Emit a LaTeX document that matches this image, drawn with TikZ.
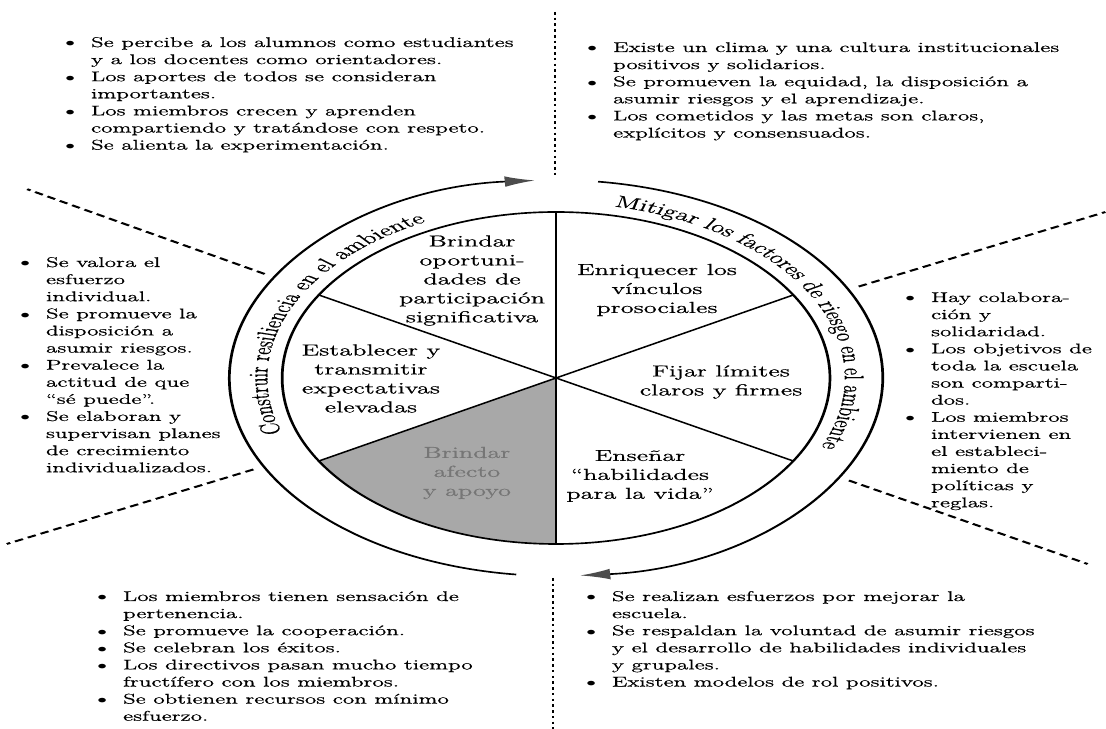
\documentclass[tikz,border=0pt]{standalone}
\usepackage{fontspec}
\setmainfont{Latin Modern Roman}[FakeBold=0.6]
\usetikzlibrary{arrows.meta}
\usetikzlibrary{calc}
\usetikzlibrary{decorations.text}
\tikzset{>={Latex[length=5.5mm,width=3.2mm,color=black!70]}}
\definecolor{afecto gray}{HTML}{A8A8A8}
\definecolor{afecto text}{HTML}{767676}
\newcommand{\ringfont}{\fontsize{14}{16}\selectfont}
\newcommand{\bul}{\makebox[6pt]{\fontsize{10}{10}\selectfont$\bullet$}}
\tikzset{
    listbox/.style={anchor=base west, inner sep=0pt, font=\fontsize{12}{14.6}\selectfont},
    wheeltext/.style={align=center, inner sep=0pt, font=\fontsize{13.6}{16.2}\selectfont},
    ringline/.style={line width=1.4pt},
    sepline/.style={line width=1.6pt, dash pattern=on 4.6pt off 2.8pt},
    dotline/.style={line width=1.4pt, dash pattern=on 2.2pt off 2.7pt},
}

\begin{document}
\begin{tikzpicture}[x=0.3mm, y=0.3mm]
    \useasboundingbox (0,0) rectangle (1106,729);
    \begin{scope}[transform canvas={xscale=1.65}]
        \coordinate (c) at (337,351);
        % shaded sector
        \fill[afecto gray] (c) -- ++(210:166) arc[start angle=210, end angle=270, radius=166] -- cycle;
        \begin{scope}[shift={(c)}]
            \foreach \a in {30, 90, ..., 330} {
                \draw[line width=1.2pt] (0,0) -- (\a:166);
            }
            \draw[ringline] (0,0) circle[radius=166];
            \draw[ringline, ->] (263:198) arc[start angle=263, end angle=93.7, radius=198];
            \draw[ringline, ->] (82.6:198) arc[start angle=82.6, end angle=-85.8, radius=198];
            \foreach \a in {149.5, 206.5, 26.5, -30} {
                \draw[sepline] (\a:205) -- (\a:372);
            }
            \path[decorate, decoration={text along path, text align=center,
                text={|\ringfont|Construir resiliencia en el ambiente}}]
                (215:175) arc[start angle=215, end angle=100, radius=175];
            \path[decorate, decoration={text along path, text align=center,
                text={|\ringfont|Mitigar los factores de riesgo en el ambiente}}]
                (95:175) arc[start angle=95, end angle=-40, radius=175];
        \end{scope}
        \draw[dotline] (336.4,717) -- (336.4,554);
        \draw[dotline] (335.2,151) -- (335.2,0);

        % wheel
        \node[wheeltext] (oportunidades) at (286.1,448.5) {Brindar\\oportuni-\\dades de\\participación\\significativa};
        \node[wheeltext] (vinculos) at (398.2,439) {Enriquecer los\\vínculos\\prosociales};
        \node[wheeltext] (expectativas) at (224.8,350.5) {Establecer y\\transmitir\\expectativas\\elevadas};
        \node[wheeltext] (limites) at (437,347) {Fijar límites\\claros y firmes};
        \node[wheeltext, text=afecto text] (afecto) at (283,256) {Brindar\\afecto\\y apoyo};
        \node[wheeltext] (habilidades) at (387.9,253) {Enseñar\\“habilidades\\para la vida”};

        % lists
        \node[listbox] (alumnos) at (38.8,682) {\begin{tabular}[t]{@{}l@{\hspace{7.8pt}}l@{}}
            \bul & Se percibe a los alumnos como estudiantes\\
                 & y a los docentes como orientadores.\\
            \bul & Los aportes de todos se consideran\\
                 & importantes.\\
            \bul & Los miembros crecen y aprenden\\
                 & compartiendo y tratándose con respeto.\\
            \bul & Se alienta la experimentación.
        \end{tabular}};
        \node[listbox] (clima) at (355.2,677) {\begin{tabular}[t]{@{}l@{\hspace{7.8pt}}l@{}}
            \bul & Existe un clima y una cultura institucionales\\
                 & positivos y solidarios.\\
            \bul & Se promueven la equidad, la disposición a\\
                 & asumir riesgos y el aprendizaje.\\
            \bul & Los cometidos y las metas son claros,\\
                 & explícitos y consensuados.
        \end{tabular}};
        \node[listbox] (esfuerzo) at (11.5,462) {\begin{tabular}[t]{@{}l@{\hspace{7.8pt}}l@{}}
            \bul & Se valora el\\
                 & esfuerzo\\
                 & individual.\\
            \bul & Se promueve la\\
                 & disposición a\\
                 & asumir riesgos.\\
            \bul & Prevalece la\\
                 & actitud de que\\
                 & “sé puede”.\\
            \bul & Se elaboran y\\
                 & supervisan planes\\
                 & de crecimiento\\
                 & individualizados.
        \end{tabular}};
        \node[listbox] (colaboracion) at (547.9,427) {\begin{tabular}[t]{@{}l@{\hspace{7.8pt}}l@{}}
            \bul & Hay colabora-\\
                 & ción y\\
                 & solidaridad.\\
            \bul & Los objetivos de\\
                 & toda la escuela\\
                 & son comparti-\\
                 & dos.\\
            \bul & Los miembros\\
                 & intervienen en\\
                 & el estableci-\\
                 & miento de\\
                 & políticas y\\
                 & reglas.
        \end{tabular}};
        \node[listbox] (pertenencia) at (58.2,128) {\begin{tabular}[t]{@{}l@{\hspace{7.8pt}}l@{}}
            \bul & Los miembros tienen sensación de\\
                 & pertenencia.\\
            \bul & Se promueve la cooperación.\\
            \bul & Se celebran los éxitos.\\
            \bul & Los directivos pasan mucho tiempo\\
                 & fructífero con los miembros.\\
            \bul & Se obtienen recursos con mínimo\\
                 & esfuerzo.
        \end{tabular}};
        \node[listbox] (mejora) at (354.5,128) {\begin{tabular}[t]{@{}l@{\hspace{7.8pt}}l@{}}
            \bul & Se realizan esfuerzos por mejorar la\\
                 & escuela.\\
            \bul & Se respaldan la voluntad de asumir riesgos\\
                 & y el desarrollo de habilidades individuales\\
                 & y grupales.\\
            \bul & Existen modelos de rol positivos.
        \end{tabular}};
    \end{scope}
\end{tikzpicture}
\end{document}
